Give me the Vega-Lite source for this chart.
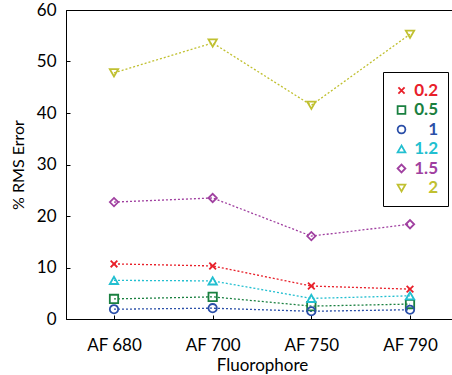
{
  "$schema": "https://vega.github.io/schema/vega-lite/v6.json",
  "width": 387,
  "height": 309,
  "autosize": {"type": "none"},
  "padding": {"left": 66, "top": 10, "right": 0, "bottom": 56},
  "background": "white",
  "config": {
    "view": {"stroke": "black", "strokeWidth": 1},
    "font": "Lato"
  },
  "data": {
    "values": [
      {"f": "AF 680", "s": "0.2", "v": 10.7},
      {"f": "AF 700", "s": "0.2", "v": 10.3},
      {"f": "AF 750", "s": "0.2", "v": 6.4},
      {"f": "AF 790", "s": "0.2", "v": 5.8},
      {"f": "AF 680", "s": "0.5", "v": 3.9},
      {"f": "AF 700", "s": "0.5", "v": 4.3},
      {"f": "AF 750", "s": "0.5", "v": 2.5},
      {"f": "AF 790", "s": "0.5", "v": 2.9},
      {"f": "AF 680", "s": "1", "v": 1.9},
      {"f": "AF 700", "s": "1", "v": 2.1},
      {"f": "AF 750", "s": "1", "v": 1.5},
      {"f": "AF 790", "s": "1", "v": 1.8},
      {"f": "AF 680", "s": "1.2", "v": 7.5},
      {"f": "AF 700", "s": "1.2", "v": 7.4},
      {"f": "AF 750", "s": "1.2", "v": 4.0},
      {"f": "AF 790", "s": "1.2", "v": 4.5},
      {"f": "AF 680", "s": "1.5", "v": 22.7},
      {"f": "AF 700", "s": "1.5", "v": 23.5},
      {"f": "AF 750", "s": "1.5", "v": 16.1},
      {"f": "AF 790", "s": "1.5", "v": 18.4},
      {"f": "AF 680", "s": "2", "v": 47.8},
      {"f": "AF 700", "s": "2", "v": 53.6},
      {"f": "AF 750", "s": "2", "v": 41.5},
      {"f": "AF 790", "s": "2", "v": 55.3}
    ]
  },
  "encoding": {
    "x": {
      "field": "f", "type": "ordinal", "title": "Fluorophore",
      "scale": {"type": "point", "range": [48, 344], "padding": 0},
      "axis": {
        "labelAngle": 0, "labelFontSize": 17, "titleFontSize": 17,
        "labelColor": "black", "titleColor": "black", "titleFontWeight": "normal",
        "domainColor": "black", "tickColor": "black", "tickSize": -4,
        "labelPadding": 22, "titlePadding": 4
      }
    },
    "y": {
      "field": "v", "type": "quantitative", "title": "% RMS Error",
      "scale": {"domain": [0, 60], "nice": false},
      "axis": {
        "values": [0, 10, 20, 30, 40, 50, 60], "grid": false,
        "labelFontSize": 17, "titleFontSize": 16,
        "labelColor": "black", "titleColor": "black", "titleFontWeight": "normal",
        "domainColor": "black", "tickColor": "black", "tickSize": -4,
        "labelPadding": 14, "titlePadding": 10
      }
    },
    "color": {
      "field": "s", "type": "nominal",
      "scale": {
        "domain": ["0.2", "0.5", "1", "1.2", "1.5", "2"],
        "range": ["#e8202a", "#1a8040", "#2b4fa8", "#22bfd0", "#a040a0", "#c0c030"]
      },
      "legend": {
        "title": null, "orient": "none", "legendX": 317, "legendY": 62,
        "strokeColor": "black", "fillColor": "white", "padding": 10,
        "labelFontSize": 17, "labelFontWeight": "bold", "labelAlign": "right",
        "labelOffset": 28, "rowPadding": 1.5, "symbolSize": 60, "symbolStrokeWidth": 1.8,
        "symbolType": "circle",
        "labelColor": {"expr": "scale('color', datum.value)"},
        "encode": {
          "symbols": {"update": {"shape": {"scale": "shape", "field": "value"}, "fill": {"value": "transparent"}}}
        }
      }
    }
  },
  "layer": [
    {
      "mark": {"type": "line", "strokeDash": [2, 2], "strokeWidth": 1.3},
      "encoding": {"detail": {"field": "s"}}
    },
    {
      "mark": {"type": "point", "filled": false, "strokeWidth": 1.8, "size": 70, "opacity": 1},
      "encoding": {
        "shape": {
          "field": "s", "type": "nominal",
          "scale": {
            "domain": ["0.2", "0.5", "1", "1.2", "1.5", "2"],
            "range": ["M-0.8,-0.8L0.8,0.8M-0.8,0.8L0.8,-0.8", "square", "circle", "triangle-up", "diamond", "triangle-down"]
          },
          "legend": null
        }
      }
    }
  ]
}
